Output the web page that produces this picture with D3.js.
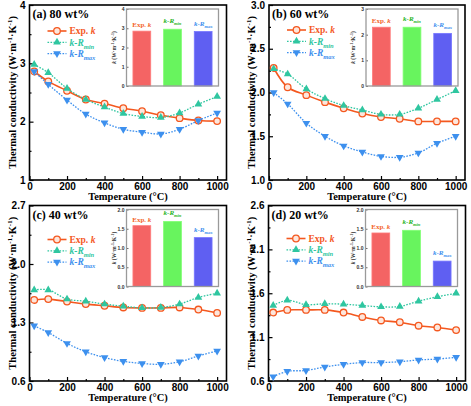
<!DOCTYPE html>
<html><head><meta charset="utf-8">
<script src="https://cdn.jsdelivr.net/npm/d3@7/dist/d3.min.js"></script>
<style>
body{margin:0;background:#fff;}
svg{display:block;font-family:"Liberation Serif","Times New Roman",serif;font-weight:bold;}
</style>
</head><body>
<svg id="chart" width="471" height="406"></svg>
<script>
// ---------------- DATA ----------------
const temps = [25, 100, 200, 300, 400, 500, 600, 700, 800, 900, 1000];
const xTicks = [0, 200, 400, 600, 800, 1000];
const xMinorTicks = [100, 300, 500, 700, 900];
const seriesNames = ["Exp. k", "k-Rmin", "k-Rmax"];
const panelTitles = ["(a) 80 wt%", "(b) 60 wt%", "(c) 40 wt%", "(d) 20 wt%"];

// (a) 80 wt%
const expA = [2.86, 2.69, 2.53, 2.38, 2.31, 2.23, 2.18, 2.11, 2.06, 2.02, 2.01];
const minA = [2.98, 2.84, 2.57, 2.38, 2.25, 2.14, 2.09, 2.07, 2.15, 2.30, 2.43];
const maxA = [2.86, 2.64, 2.37, 2.13, 1.98, 1.87, 1.82, 1.79, 1.87, 2.02, 2.15];
// (b) 60 wt%
const expB = [2.28, 2.06, 1.97, 1.89, 1.82, 1.76, 1.72, 1.70, 1.67, 1.67, 1.67];
const minB = [2.27, 2.21, 2.04, 1.93, 1.85, 1.80, 1.75, 1.75, 1.82, 1.92, 2.02];
const maxB = [2.00, 1.87, 1.65, 1.50, 1.39, 1.32, 1.27, 1.26, 1.31, 1.42, 1.50];
// (c) 40 wt%
const expC = [1.57, 1.58, 1.55, 1.52, 1.50, 1.48, 1.475, 1.475, 1.48, 1.455, 1.415];
const minC = [1.69, 1.69, 1.58, 1.555, 1.52, 1.495, 1.475, 1.48, 1.52, 1.60, 1.65];
const maxC = [1.26, 1.18, 1.05, 0.95, 0.88, 0.835, 0.81, 0.80, 0.83, 0.90, 0.96];
// (d) 20 wt%
const expD = [1.38, 1.41, 1.41, 1.41, 1.38, 1.33, 1.29, 1.27, 1.23, 1.21, 1.18];
const minD = [1.46, 1.52, 1.47, 1.48, 1.475, 1.46, 1.445, 1.45, 1.51, 1.56, 1.60];
const maxD = [0.65, 0.71, 0.72, 0.76, 0.79, 0.81, 0.81, 0.82, 0.84, 0.85, 0.87];

const yDomains = [[1, 4], [1, 3], [0.6, 2.7], [0.6, 2.6]];
const yTicks = [[1, 2, 3, 4], [1.0, 1.5, 2.0, 2.5, 3.0], [0.6, 1.3, 2.0, 2.7], [0.6, 1.1, 1.6, 2.1, 2.6]];
const yTickFormats = ["d", ".1f", ".1f", ".1f"];

// inset bar values (Exp. k, k-Rmin, k-Rmax)
const barA = [2.85, 2.95, 2.83];
const barB = [2.29, 2.29, 2.05];
const barC = [1.58, 1.69, 1.27];
const barD = [1.39, 1.46, 0.66];
const insetDomains = [[0, 4], [0, 3], [0, 2], [0, 2]];
const insetTicks = [[0, 1, 2, 3, 4], [0, 1, 2, 3], [0, 0.5, 1.0, 1.5, 2.0], [0, 0.5, 1.0, 1.5, 2.0]];
const insetTickFormats = ["d", "d", ".1f", ".1f"];

// ---------------- STYLE / LAYOUT ----------------
const lineColors = ["#f4581f", "#2fc6a0", "#3d90ee"];
const barColors = ["#f46464", "#68f45e", "#5f5ff2"];
const barLabelColors = ["#f4642a", "#24b424", "#3d90ee"];
const panels = [
  {x: 29.5, y: 5, w: 197, h: 175, legTop: 26},
  {x: 269, y: 5, w: 196, h: 175, legTop: 25},
  {x: 29.5, y: 205.5, w: 197, h: 175.5, legTop: 34},
  {x: 268.5, y: 205.5, w: 197, h: 175.5, legTop: 33}
];
const seriesByPanel = [[expA, minA, maxA], [expB, minB, maxB], [expC, minC, maxC], [expD, minD, maxD]];
const barsByPanel = [barA, barB, barC, barD];

const svg = d3.select("#chart");

function seriesLabel(textSel, idx, subSize) {
  if (idx === 0) {
    textSel.append("tspan").text("Exp. ");
    textSel.append("tspan").attr("font-style", "italic").text("k");
  } else {
    textSel.append("tspan").attr("font-style", "italic").text("k-R");
    textSel.append("tspan").attr("font-style", "italic").attr("font-size", subSize)
      .attr("dy", subSize * 0.45).text(idx === 1 ? "min" : "max");
  }
}

function marker(g, idx, x, y) {
  if (idx === 0) {
    g.append("circle").attr("cx", x).attr("cy", y).attr("r", 3.3)
      .attr("fill", "#fde6dc").attr("stroke", lineColors[0]).attr("stroke-width", 1.3);
  } else {
    g.append("path").attr("d", d3.symbol(d3.symbolTriangle, 26)())
      .attr("transform", `translate(${x},${y}) rotate(${idx === 2 ? 180 : 0})`)
      .attr("fill", lineColors[idx]);
  }
}

panels.forEach((p, pi) => {
  const g = svg.append("g").attr("transform", `translate(${p.x},${p.y})`);
  const x = d3.scaleLinear().domain([0, 1050]).range([0, p.w]);
  const y = d3.scaleLinear().domain(yDomains[pi]).range([p.h, 0]);

  // axes
  const xAx = d3.axisBottom(x).tickValues(xTicks).tickSize(-4).tickPadding(3).tickFormat(d3.format("d"));
  const gx = g.append("g").attr("transform", `translate(0,${p.h})`).call(xAx);
  gx.select(".domain").remove();
  gx.selectAll("text").attr("font-size", 10).attr("font-weight", "bold").attr("fill", "#000");
  g.append("g").attr("transform", `translate(0,${p.h})`)
    .call(d3.axisBottom(x).tickValues(xMinorTicks).tickSize(-2).tickFormat(""))
    .select(".domain").remove();

  const yt = yTicks[pi];
  const yMinor = yt.slice(1).map((v, i) => (v + yt[i]) / 2);
  const yAx = d3.axisLeft(y).tickValues(yt).tickSize(-4).tickPadding(4).tickFormat(d3.format(yTickFormats[pi]));
  const gy = g.append("g").call(yAx);
  gy.select(".domain").remove();
  gy.selectAll("text").attr("font-size", 10).attr("font-weight", "bold").attr("fill", "#000");
  g.append("g").call(d3.axisLeft(y).tickValues(yMinor).tickSize(-2).tickFormat(""))
    .select(".domain").remove();
  g.selectAll(".tick line").attr("stroke", "#000").attr("stroke-width", 1.2);

  // frame
  g.append("rect").attr("width", p.w).attr("height", p.h)
    .attr("fill", "none").attr("stroke", "#000").attr("stroke-width", 1.6);

  // series
  seriesByPanel[pi].forEach((vals, si) => {
    const pts = temps.map((t, i) => [x(t), y(vals[i])]);
    g.append("path").attr("d", d3.line().curve(d3.curveCatmullRom.alpha(0.5))(pts))
      .attr("fill", "none").attr("stroke", lineColors[si])
      .attr("stroke-width", si === 0 ? 1.6 : 1.3)
      .attr("stroke-dasharray", si === 0 ? null : "1.6,1.4");
    const mg = g.append("g");
    pts.forEach(pt => marker(mg, si, pt[0], pt[1]));
  });

  // title
  g.append("text").attr("x", 3).attr("y", 13).attr("font-size", 12).attr("fill", "#000")
    .text(panelTitles[pi]);

  // legend
  seriesNames.forEach((nm, si) => {
    const ly = p.legTop + si * 11.3;
    g.append("line").attr("x1", 18).attr("x2", 37).attr("y1", ly).attr("y2", ly)
      .attr("stroke", lineColors[si]).attr("stroke-width", si === 0 ? 1.6 : 1.3)
      .attr("stroke-dasharray", si === 0 ? null : "1.6,1.4");
    marker(g, si, 27.5, ly);
    const t = g.append("text").attr("x", 40).attr("y", ly + 3.3).attr("font-size", 9.5)
      .attr("fill", lineColors[si]);
    seriesLabel(t, si, 6.5);
  });

  // axis titles
  g.append("text").attr("x", x(525)).attr("y", p.h + 20).attr("text-anchor", "middle")
    .attr("font-size", 10.5).attr("fill", "#000").text("Temperature (°C)");
  const yt2 = g.append("text").attr("transform", `translate(${-14},${p.h / 2}) rotate(-90)`)
    .attr("text-anchor", "middle").attr("font-size", 10.5).attr("fill", "#000");
  yt2.append("tspan").text("Thermal conductivity (W·m");
  yt2.append("tspan").attr("font-size", 7).attr("dy", -4).text("-1");
  yt2.append("tspan").attr("dy", 4).text("·K");
  yt2.append("tspan").attr("font-size", 7).attr("dy", -4).text("-1");
  yt2.append("tspan").attr("dy", 4).text(")");

  // inset
  const ig = g.append("g").attr("transform", `translate(97,4)`);
  const iw = 92, ih = 77;
  const bx = d3.scaleBand().domain(seriesNames).range([0, iw]).paddingInner(0.42).paddingOuter(0.21);
  const by = d3.scaleLinear().domain(insetDomains[pi]).range([ih, 0]);
  ig.append("rect").attr("width", iw).attr("height", ih).attr("fill", "#fff");
  ig.selectAll("rect.bar").data(barsByPanel[pi]).join("rect").attr("class", "bar")
    .attr("x", (d, i) => bx(seriesNames[i])).attr("width", bx.bandwidth())
    .attr("y", d => by(d)).attr("height", d => ih - by(d))
    .attr("fill", (d, i) => barColors[i])
    .attr("stroke", (d, i) => d3.color(barColors[i]).brighter(0.6)).attr("stroke-width", 0.8);
  barsByPanel[pi].forEach((v, i) => {
    const t = ig.append("text").attr("x", bx(seriesNames[i]) + bx.bandwidth() / 2)
      .attr("y", by(v) - (i === 0 ? 4 : 6)).attr("text-anchor", "middle")
      .attr("font-size", 7).attr("fill", barLabelColors[i]);
    seriesLabel(t, i, 4.5);
  });
  const iyAx = d3.axisLeft(by).tickValues(insetTicks[pi]).tickSize(-2).tickPadding(2)
    .tickFormat(d3.format(insetTickFormats[pi]));
  const giy = ig.append("g").call(iyAx);
  giy.select(".domain").remove();
  giy.selectAll("text").attr("font-size", 5).attr("font-weight", "bold").attr("fill", "#333");
  giy.selectAll("line").attr("stroke", "#666");
  ig.append("rect").attr("width", iw).attr("height", ih).attr("fill", "none")
    .attr("stroke", "#9a9a9a").attr("stroke-width", 1.3);
  const iyt = ig.append("text").attr("transform", `translate(-11,${ih / 2}) rotate(-90)`)
    .attr("text-anchor", "middle").attr("font-size", 5.5).attr("fill", "#333");
  iyt.append("tspan").attr("font-style", "italic").text("k");
  iyt.append("tspan").text(" (W·m");
  iyt.append("tspan").attr("font-size", 4).attr("dy", -2).text("-1");
  iyt.append("tspan").attr("dy", 2).text("·K");
  iyt.append("tspan").attr("font-size", 4).attr("dy", -2).text("-1");
  iyt.append("tspan").attr("dy", 2).text(")");
});
</script>
</body></html>
